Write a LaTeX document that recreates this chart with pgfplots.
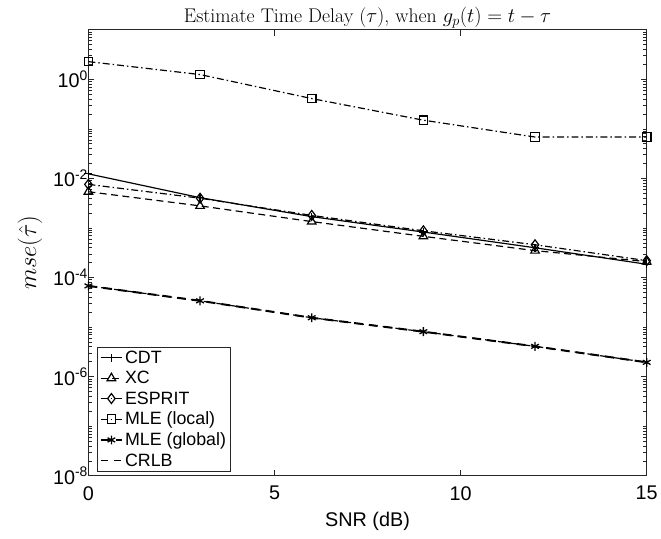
\documentclass[border=0pt]{standalone}
\usepackage{fontspec}
\setsansfont{Liberation Sans}
\usepackage{pgfplots}
\pgfplotsset{compat=1.18}
\begin{document}
\begin{tikzpicture}
\begin{axis}[
  name=ax,
  scale only axis,
  width=562bp, height=449bp,
  xmin=0, xmax=15,
  ymode=log, ymin=1e-8, ymax=10,
  axis line style={line width=1pt, black!85},
  tick style={line width=0.8pt, black!85},
  tick align=inside,
  xtick pos=both, ytick pos=both,
  major tick length=6bp, minor tick length=3.5bp,
  xtick={0,5,10,15}, xticklabels={0,5,10,15},
  ytick={1e-8,1e-6,1e-4,1e-2,1},
  yticklabels={10\textsuperscript{-8},10\textsuperscript{-6},10\textsuperscript{-4},10\textsuperscript{-2},10\textsuperscript{0}},
  minor ytick={2e-8,3e-8,4e-8,5e-8,6e-8,7e-8,8e-8,9e-8,1e-7,2e-7,3e-7,4e-7,5e-7,6e-7,7e-7,8e-7,9e-7,
    2e-6,3e-6,4e-6,5e-6,6e-6,7e-6,8e-6,9e-6,1e-5,2e-5,3e-5,4e-5,5e-5,6e-5,7e-5,8e-5,9e-5,
    2e-4,3e-4,4e-4,5e-4,6e-4,7e-4,8e-4,9e-4,1e-3,2e-3,3e-3,4e-3,5e-3,6e-3,7e-3,8e-3,9e-3,
    2e-2,3e-2,4e-2,5e-2,6e-2,7e-2,8e-2,9e-2,1e-1,2e-1,3e-1,4e-1,5e-1,6e-1,7e-1,8e-1,9e-1,
    2,3,4,5,6,7,8,9,10},
  ticklabel style={font=\sffamily\fontsize{20}{23}\selectfont},
  xticklabel style={yshift=-7bp},
  yticklabel style={xshift=3bp},
  xlabel={SNR (dB)},
  xlabel style={font=\sffamily\fontsize{20}{23}\selectfont, yshift=-5bp},
  ylabel={$mse(\hat{\tau})$},
  ylabel style={font=\fontsize{25}{27}\selectfont, yshift=4bp},
  title={Estimate Time Delay ($\tau$), when $g_p(t)=t-\tau$},
  title style={font=\fontsize{20}{22}\selectfont, yshift=-8bp},
  legend cell align=left,
  legend style={at={(0,0)}, anchor=south west, xshift=9bp, yshift=4bp,
    draw=black!85, line width=0.8pt, font=\sffamily\fontsize{18}{20}\selectfont,
    inner sep=2pt, row sep=2.5pt},
  legend image code/.code={\draw[mark repeat=2,mark phase=2] plot coordinates {(0cm,0cm) (0.38cm,0cm) (0.76cm,0cm)};},
  every axis plot/.append style={black, line width=1.2pt, mark size=4pt},
]
\addplot[solid, mark=+, mark options={solid}] coordinates {
(0,0.0124) (3,0.0041) (6,0.0017) (9,0.00083) (12,0.00040) (15,0.000186)};
\addlegendentry{CDT}
\addplot[dash pattern=on 7bp off 4.5bp, mark=triangle, mark options={solid}, mark size=5pt] coordinates {
(0,0.0054) (3,0.0028) (6,0.00135) (9,0.00068) (12,0.00035) (15,0.00021)};
\addlegendentry{XC}
\addplot[dash pattern=on 7bp off 3bp on 1.5bp off 3bp, mark=diamond, mark options={solid}, mark size=5pt] coordinates {
(0,0.0076) (3,0.0040) (6,0.00180) (9,0.00088) (12,0.00046) (15,0.00022)};
\addlegendentry{ESPRIT}
\addplot[dash pattern=on 7bp off 3bp on 1.5bp off 3bp, mark=square, mark options={solid}, mark size=4.3pt] coordinates {
(0,2.28) (3,1.25) (6,0.41) (9,0.15) (12,0.0686) (15,0.0686)};
\addlegendentry{MLE (local)}
\addplot[dash pattern=on 9bp off 6bp, line width=2pt, mark=asterisk, mark options={solid, line width=1.3pt}, mark size=4.5pt] coordinates {
(0,6.8e-5) (3,3.4e-5) (6,1.55e-5) (9,8.1e-6) (12,4.1e-6) (15,1.95e-6)};
\addlegendentry{MLE (global)}
\addplot[dash pattern=on 7bp off 6bp, line width=1.2pt] coordinates {
(0,6.8e-5) (3,3.4e-5) (6,1.55e-5) (9,8.1e-6) (12,4.1e-6) (15,1.95e-6)};
\addlegendentry{CRLB}
\end{axis}
\path[use as bounding box] ([shift={(-89bp,-63bp)}]ax.south west) rectangle ([shift={(10bp,30bp)}]ax.north east);
\end{tikzpicture}
\end{document}
